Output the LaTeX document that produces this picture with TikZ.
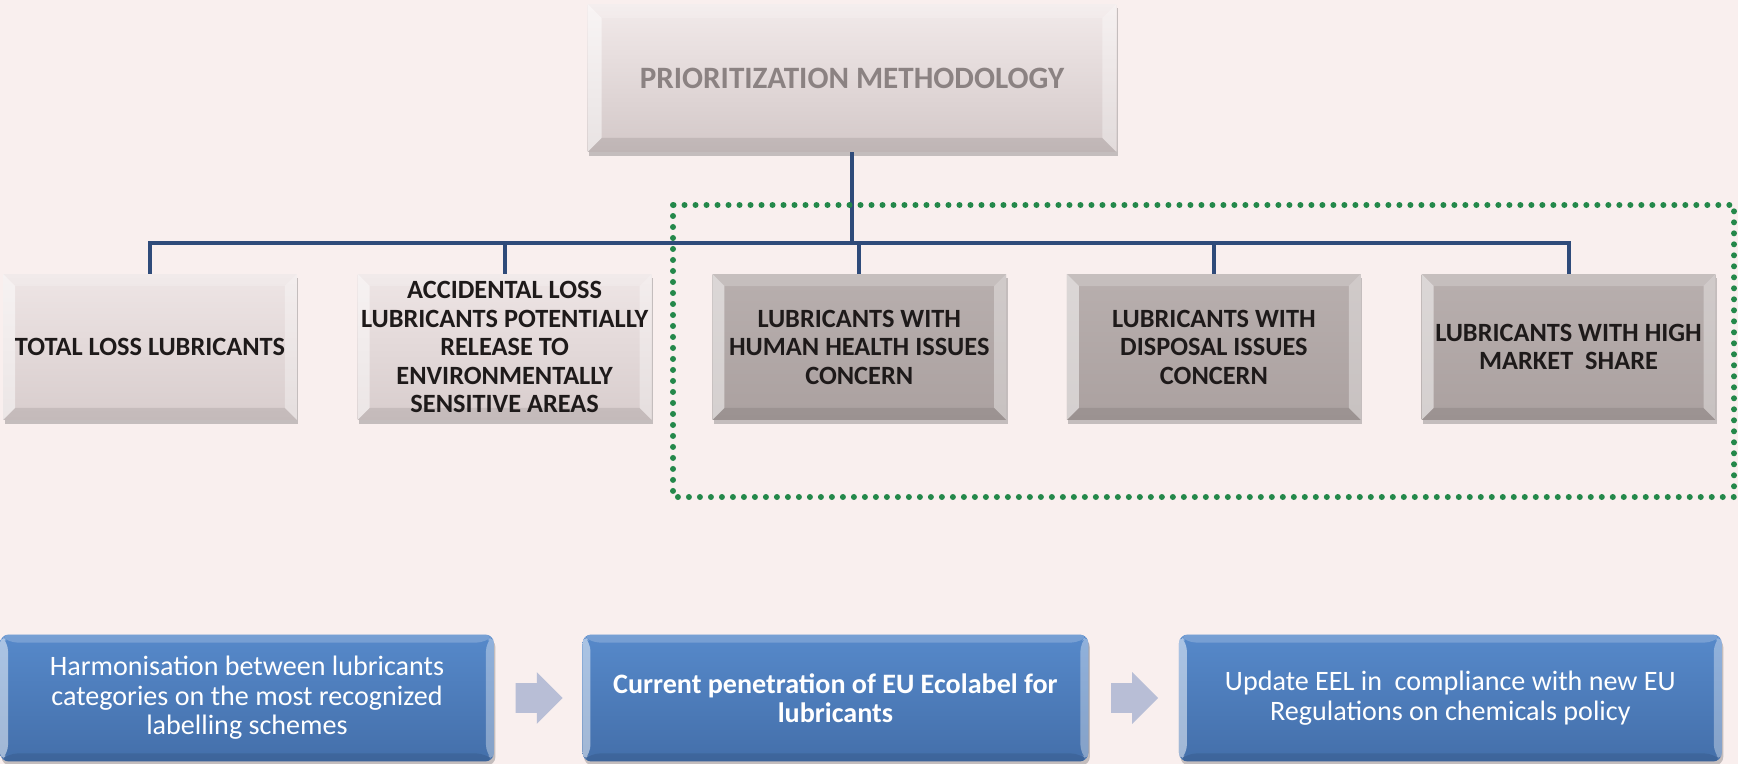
\documentclass[tikz,border=0pt]{standalone}
\usepackage{fontspec}
\setmainfont{Carlito}
\usetikzlibrary{positioning,shapes.arrows,shadows}

\definecolor{pagebg}{HTML}{F9EFEE}
\definecolor{linkblue}{HTML}{2F4B7A}
\definecolor{focusgreen}{HTML}{24884A}
\definecolor{headtop}{HTML}{F2EAEA}
\definecolor{headbot}{HTML}{D3C8C8}
\definecolor{headtext}{HTML}{8B8282}
\definecolor{cattop}{HTML}{EEE5E5}
\definecolor{catbot}{HTML}{D8CDCD}
\definecolor{deeptop}{HTML}{B8AFAE}
\definecolor{deepbot}{HTML}{ABA1A0}
\definecolor{steptop}{HTML}{5689CA}
\definecolor{stepbot}{HTML}{446FAA}
\definecolor{arrowfill}{HTML}{B8BED6}
\definecolor{darktext}{HTML}{1E1A1A}

\begin{document}
\begin{tikzpicture}[
  x=0.02cm,y=-0.02cm,
  every node/.style={align=center},
  bevel/.style={path picture={
    \path (path picture bounding box.south west) coordinate (bvA)
          (path picture bounding box.north west) coordinate (bvB)
          (path picture bounding box.north east) coordinate (bvC)
          (path picture bounding box.south east) coordinate (bvD);
    \fill[white,opacity=.5] (bvA) -- (bvB) -- ([shift={(#1,-#1)}]bvB) -- ([shift={(#1,#1)}]bvA) -- cycle;
    \fill[white,opacity=.35] (bvD) -- (bvC) -- ([shift={(-#1,-#1)}]bvC) -- ([shift={(-#1,#1)}]bvD) -- cycle;
    \fill[white,opacity=.2] (bvB) -- (bvC) -- ([shift={(-#1,-#1)}]bvC) -- ([shift={(#1,-#1)}]bvB) -- cycle;
    \fill[black,opacity=.09] (bvA) -- (bvD) -- ([shift={(-#1,#1)}]bvD) -- ([shift={(#1,#1)}]bvA) -- cycle;
  }},
  boxshadow/.style={drop shadow={shadow xshift=0.03cm,shadow yshift=-0.08cm,opacity=.3,fill=black!70}},
  headbox/.style={rectangle,boxshadow,top color=headtop,bottom color=headbot,bevel=0.28cm,
    minimum width=10.58cm,minimum height=2.96cm,text=headtext,font=\fontsize{17.7}{20}\selectfont\bfseries},
  catbox/.style={rectangle,boxshadow,top color=cattop,bottom color=catbot,bevel=0.24cm,
    minimum width=5.88cm,minimum height=2.92cm,inner sep=1pt,text=darktext,font=\fontsize{15}{16.2}\selectfont\bfseries},
  deepbox/.style={catbox,top color=deeptop,bottom color=deepbot},
  stepbox/.style={rectangle,rounded corners=5pt,boxshadow,top color=steptop,bottom color=stepbot,bevel=0.16cm,
    minimum height=2.54cm,text=white,font=\fontsize{16}{16.8}\selectfont},
  flowarrow/.style={single arrow,fill=arrowfill,draw=none,inner xsep=0pt,inner ysep=0.29cm,
    single arrow head extend=0.22cm,minimum height=0.94cm},
  link/.style={draw=linkblue,line width=0.08cm},
  focus/.style={draw=focusgreen,line width=0.12cm,line cap=round,dash pattern=on 0pt off 0.22cm}
]
\useasboundingbox (0,0) rectangle (1738,764);
\fill[pagebg] (0,0) rectangle (1738,764);

% methodology tree
\node[headbox] (method) at (852,78) {PRIORITIZATION METHODOLOGY};
\node[catbox] (total) at (150,347) {TOTAL LOSS LUBRICANTS};
\node[catbox,right=1.2cm of total] (accident) {ACCIDENTAL LOSS\\LUBRICANTS POTENTIALLY\\RELEASE TO\\ENVIRONMENTALLY\\SENSITIVE AREAS};
\node[deepbox,right=1.2cm of accident] (health) {LUBRICANTS WITH\\HUMAN HEALTH ISSUES\\CONCERN};
\node[deepbox,right=1.2cm of health] (disposal) {LUBRICANTS WITH\\DISPOSAL ISSUES\\CONCERN};
\node[deepbox,right=1.2cm of disposal] (market) {LUBRICANTS WITH HIGH\\MARKET\ \ SHARE};

\coordinate (bar) at (852,243);
\draw[link] (method.south) -- (bar);
\foreach \kid in {total,accident,health,disposal,market}
  \draw[link] (\kid.north) |- (bar);

% the three categories in focus
\draw[focus] (673,205) rectangle (1734,497);

% work steps
\node[stepbox,minimum width=9.88cm] (harmon) at (247,698) {Harmonisation between lubricants\\categories on the most recognized\\labelling schemes};
\node[flowarrow,right=0.42cm of harmon] (go1) {};
\node[stepbox,minimum width=10.12cm,right=0.38cm of go1,font=\fontsize{16}{16.8}\selectfont\bfseries] (penetr) {Current penetration of EU Ecolabel for\\lubricants};
\node[flowarrow,right=0.44cm of penetr] (go2) {};
\node[stepbox,minimum width=10.86cm,right=0.4cm of go2] (update) {Update EEL in\ \ compliance with new EU\\Regulations on chemicals policy};
\end{tikzpicture}
\end{document}
